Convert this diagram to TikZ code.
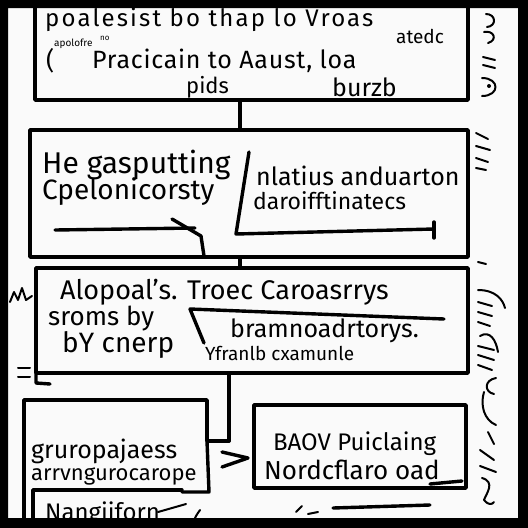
\documentclass[tikz,border=0pt]{standalone}
\usepackage{fontspec}
\setmainfont{Fira Sans}
\newcommand{\fs}[1]{\fontsize{#1}{#1}\selectfont}
\begin{document}
\begin{tikzpicture}[x=1pt,y=-1pt,
  ink/.style={line width=3.4pt, line cap=round, line join=round, draw=black},
  pen/.style={line width=2pt, line cap=round, line join=round, draw=black},
  box/.style={ink, rectangle, inner sep=0pt},
  txt/.style={anchor=west, inner sep=0pt, font=\fs{24}},
  small/.style={anchor=west, inner sep=0pt, font=\fs{12}}]
\useasboundingbox (0,0) rectangle (528,528);
\fill[white!96!gray] (0,0) rectangle (528,528);

% boxes
\node[box, minimum width=433pt, minimum height=98pt] (b1) at (251.5,51) {};
\node[box, minimum width=438pt, minimum height=127pt] (b2) at (249,193.5) {};
\node[box, minimum width=432pt, minimum height=105pt] (b3) at (252,320.5) {};
\node[box, minimum width=212pt, minimum height=83pt] (b5) at (360,446.5) {};
\coordinate (c1) at (240,0);
\coordinate (c2) at (229,0);

% box 1 texts
\node[txt, font=\fs{24}\addfontfeature{LetterSpace=9}] (t1a) at (45,20) {poalesist bo thap lo Vroas};
\node[txt, font=\fs{19}] (t1b) at (396,36) {atedc};
\node[txt, font=\fs{25}] (t1c) at (46,61) {(};
\node[small, font=\fs{10}] (t1d) at (54,44) {apolofre};
\node[small, font=\fs{8}] (t1f) at (100,38) {no};
\node[txt, font=\fs{25}\addfontfeature{LetterSpace=3}] (t1e) at (92,61) {Pracicain to Aaust, loa};
\node[txt, font=\fs{22}] (t1g) at (186,87) {pids};
\node[txt, font=\fs{25}] (t1h) at (332,87) {burzb};

% box 2 texts
\node[txt, font=\fs{30}] (t2a) at (42,165) {He gasputting};
\node[txt, font=\fs{28}] (t2b) at (42,192) {Cpelonicorsty};
\node[txt, font=\fs{25}] (t2c) at (256,176) {nlatius anduarton};
\node[txt, font=\fs{23}] (t2d) at (253,201) {daroifftinatecs};
\coordinate (s2a) at (249,152);
\coordinate (s2b) at (236,234);
\coordinate (s2c) at (434,229);
\draw[ink] (s2a) -- (s2b) -- (s2c);
\draw[ink] (s2c) ++(0,-7) -- ++(0,16);
\coordinate (l2a) at (55,230);
\coordinate (l2b) at (195,228);
\draw[ink] (l2a) -- (l2b);
\coordinate (a2a) at (172,219);
\coordinate (a2b) at (201,236);
\coordinate (a2c) at (204,256);
\draw[ink] (a2a) -- (a2b) -- (a2c);

% box 3 texts
\node[txt, font=\fs{27}] (t3a) at (60,292) {Alopoal's. Troec Caroasrrys};
\node[txt, font=\fs{26}] (t3b) at (48,319) {sroms by};
\node[txt, font=\fs{28}] (t3c) at (62,345) {bY cnerp};
\node[txt, font=\fs{25}] (t3d) at (230,331) {bramnoadrtorys.};
\node[txt, font=\fs{19}] (t3e) at (205,353) {Yfranlb cxamunle};
\coordinate (l3a) at (190,309);
\coordinate (l3b) at (444,319);
\coordinate (l3c) at (204,343);
\draw[ink] (l3c) -- (l3a) -- (l3b);

% connectors
\draw[ink] (b1.south -| c1) -- (b2.north -| c1);
\draw[ink] (b2.south -| c1) -- (b3.north -| c1);
\coordinate (j1) at (229,441);
\draw[ink] (b3.south -| c2) -- (j1);

% box 4 (irregular)
\coordinate (b4a) at (24,528);
\coordinate (b4b) at (24,400);
\coordinate (b4c) at (207,400);
\coordinate (b4d) at (207,441);
\draw[ink] (b4a) -- (b4b) -- (b4c) -- (b4d) -- (j1);
\coordinate (b4e) at (209,492);
\coordinate (b4f) at (182,492);
\coordinate (b4g) at (186,504);
\coordinate (b4h) at (158,512);
\draw[ink] (b4d) -- (b4e) -- (b4f);
\draw[pen] (b4g) -- (b4h);
\coordinate (i4a) at (33,528);
\coordinate (i4b) at (33,490);
\coordinate (i4c) at (182,490);
\draw[ink] (i4a) -- (i4b) -- (i4c);
\node[txt, font=\fs{25}] (t4a) at (31,451) {gruropajaess};
\node[txt, font=\fs{22}] (t4b) at (31,476) {arrvngurocarope};
\node[txt, font=\fs{24}] (t4c) at (45,514) {Nangiiforn};
\draw[pen] (200,528) .. controls (193,520) .. (200,510);

% arrow into box 5
\coordinate (ar0) at (248,458);
\draw[ink] (222,452) -- (ar0) -- (222,467);

% box 5 texts
\node[txt, font=\fs{24}] (t5a) at (273,444) {BAOV Puiclaing};
\node[txt, font=\fs{26}] (t5b) at (264,470) {Nordcflaro oad};
\draw[ink] (430,484) -- (462,481);
\draw[ink] (333,508) -- (430,505);
\draw[pen] (296,512) -- (302,506);
\draw[pen] (308,514) -- (318,512);

% left squiggles
\draw[pen] (10,302) -- (14,292) -- (18,300) -- (22,288) -- (26,300) -- (32,296);
\draw[pen] (18,368) -- (30,368);
\draw[pen] (18,377) -- (30,377);
\draw[ink] (36,373) -- (36,383) -- (50,384);

% right scribbles
\draw[pen] (486,14) .. controls (496,14) and (497,26) .. (487,27);
\draw[pen] (484,32) .. controls (494,30) and (498,40) .. (488,43);
\draw[pen] (483,57) -- (495,60);
\draw[pen] (483,65) -- (495,68);
\draw[pen] (482,78) .. controls (500,78) and (500,96) .. (482,96);
\fill (489,86) circle (2pt);
\draw[pen] (476,133) -- (488,139);
\draw[pen] (476,146) -- (490,150);
\draw[pen] (476,158) -- (488,162);
\draw[pen] (476,168) -- (486,170);
\draw[pen] (478,262) -- (486,264);
\draw[pen] (478,290) .. controls (496,290) and (503,300) .. (505,308);
\draw[pen] (478,302) -- (492,306);
\draw[pen] (478,312) -- (492,316);
\draw[pen] (478,322) -- (490,326);
\draw[pen] (480,336) .. controls (490,330) and (496,340) .. (498,352);
\draw[pen] (478,346) -- (494,350);
\draw[pen] (478,355) -- (494,360);
\draw[pen] (478,365) -- (492,370);
\draw[pen] (496,378) .. controls (484,380) and (484,392) .. (494,394);
\draw[pen] (484,392) .. controls (480,405) and (484,420) .. (496,425);
\draw[pen] (488,432) -- (494,444);
\draw[pen] (480,450) -- (494,460);
\draw[pen] (480,466) -- (496,472);
\draw[pen] (482,478) .. controls (496,482) and (486,494) .. (484,500) .. controls (488,505) and (492,505) .. (494,502);

% black frame
\fill[black, even odd rule] (0,0) rectangle (528,528) (8,8) rectangle (518,518);
\end{tikzpicture}
\end{document}
